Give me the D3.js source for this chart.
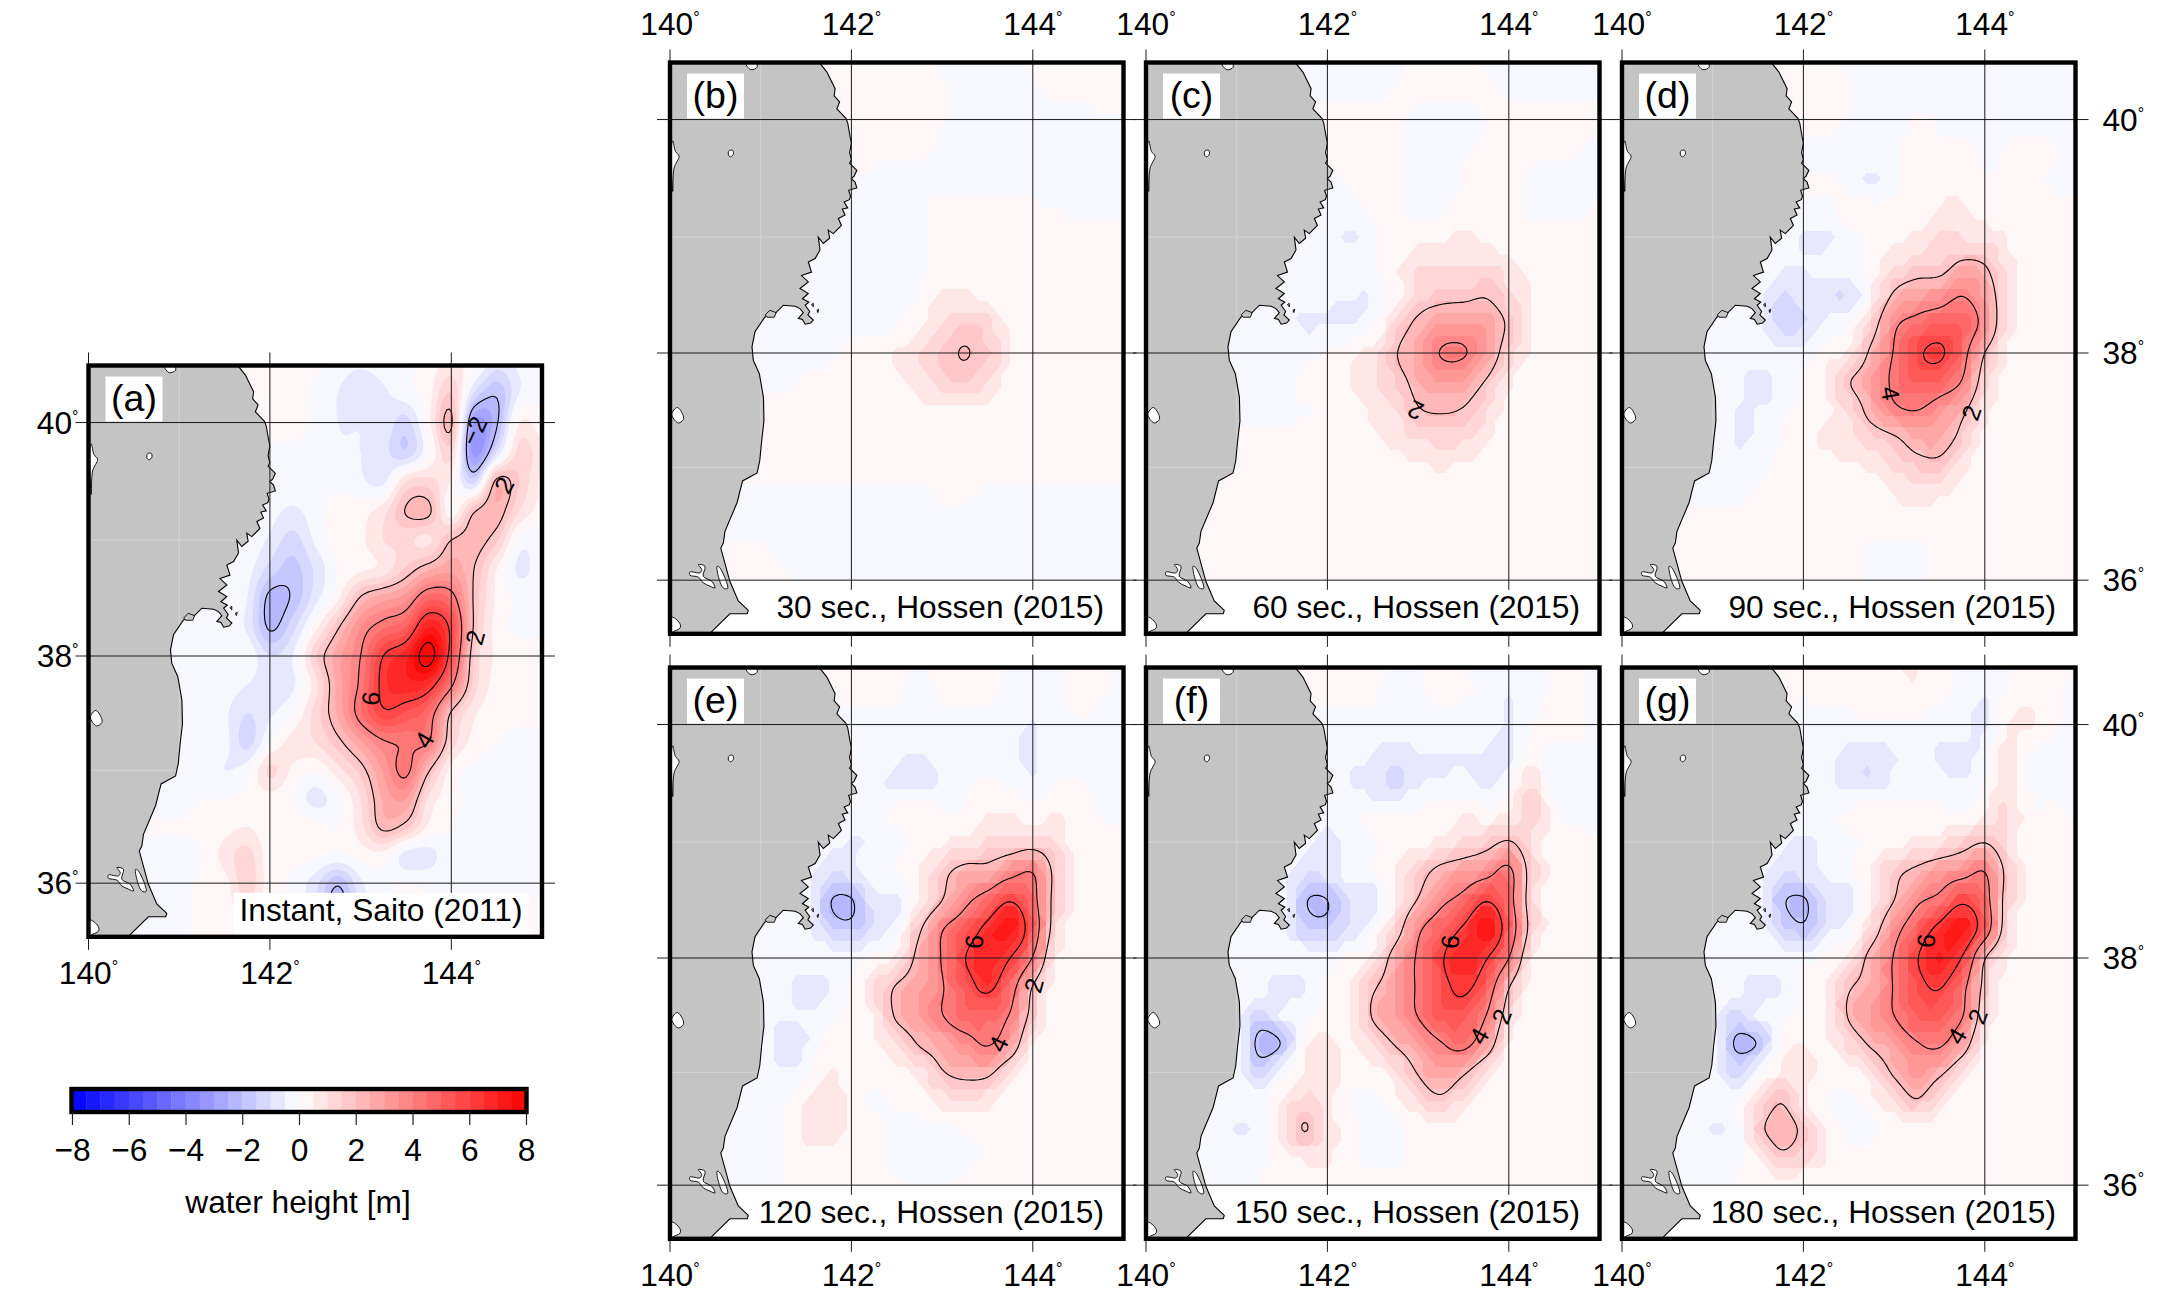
<!DOCTYPE html>
<html><head><meta charset="utf-8">
<script src="https://cdn.jsdelivr.net/npm/d3@7"></script>
<style>
html,body{margin:0;padding:0;background:#fff}
svg{display:block}
text{font-family:"Liberation Sans",Arial,Helvetica,sans-serif;fill:#000}
</style></head><body>
<script>
// ---------- values ----------
const panelLetters = ["(a)","(b)","(c)","(d)","(e)","(f)","(g)"];
const panelCaptions = ["Instant, Saito (2011)","30 sec., Hossen (2015)","60 sec., Hossen (2015)","90 sec., Hossen (2015)","120 sec., Hossen (2015)","150 sec., Hossen (2015)","180 sec., Hossen (2015)"];
const lonTicks = [140,142,144];
const latTicks = [40,38,36];
const barTicks = [-8,-6,-4,-2,0,2,4,6,8];
const barTitle = "water height [m]";
const contourLevels = [2,4,6,8];
// sampled water height [m]; columns 140.5E..145E and rows 40.5N downwards, every 0.25 degree
const heightA = [
[.1,.1,.1,.1,.1,.1,.1,.1,.1,-.2,-.4,-.2,-.1,.2,.7,.2,-.8,-.4,-.1],
[.1,.1,.1,.1,.1,.1,.1,.1,-.1,-.5,-1,-.6,-.2,.3,1.5,-1,-1.9,-.5,-.1],
[.1,.1,.1,.1,.1,.1,.1,.1,-.1,-.5,-.55,-.6,-1.2,.3,2.1,-3,-2.1,.5,.2],
[.1,.1,.1,.1,.1,.1,-.05,-.05,-.1,-.4,-.5,-.8,-1.4,-.1,1.2,-3.2,-1,1.2,.7],
[-.1,-.1,-.1,-.1,-.1,-.1,-.1,-.1,-.2,-.2,-.4,-.6,1,1.2,.4,-1.2,2.2,1.5,.4],
[-.1,-.1,-.1,-.1,-.1,-.1,-.3,-.6,-.2,.3,.3,.8,2.05,2.15,.2,1.9,2.4,1,.3],
[-.1,-.1,-.1,-.1,-.1,-.1,-.6,-1.2,-.4,.3,.4,1,1.1,.9,2,2.3,1.6,-.2,-.2],
[-.1,-.1,-.1,-.1,-.1,-.3,-1.2,-1.7,-.9,0,.4,.7,1.6,2.4,2.8,2,.5,-.6,-.2],
[-.1,-.1,-.1,-.1,-.1,-.5,-2.2,-1.9,-.7,.4,2.1,2.8,3.3,4.8,4.4,1.9,.4,-.1,-.1],
[-.1,-.1,-.1,-.1,-.2,-.6,-2.1,-1.2,.3,1.9,3.5,4.4,5,7,5.7,1.9,.3,-.1,-.1],
[-.1,-.1,-.1,-.1,-.1,-.1,-1,-.5,1.4,2.8,4,6,6.8,8.4,5.5,1.5,.4,.2,.2],
[-.1,-.1,-.1,-.1,-.2,-.5,-.8,-.6,.8,2.7,4.2,6.3,6.8,6.5,4.2,1.3,.3,.1,.1],
[-.1,-.1,-.1,-.1,-.4,-1,-.6,0,1.2,2.6,4.4,5.8,5.4,4.6,1.9,.6,.2,.1,.1],
[-.1,-.1,-.1,-.1,-.3,-1.2,0,.7,1,1.8,2.9,3.9,4.1,4,1.4,.3,0,-.1,-.1],
[-.1,-.1,-.1,-.1,-.5,-.2,1.1,.4,.1,.8,1.7,3.1,4.2,2.1,.3,-.1,-.1,-.1,-.1],
[-.1,-.1,-.1,0,0,.2,.3,0,-.7,-.1,1,2.6,3,.9,.2,-.1,-.1,-.1,-.1],
[.02,.02,.02,.1,.3,.5,.2,.4,.2,0,.8,2.2,1.7,.4,0,-.1,-.1,-.1,-.1],
[-.1,-.1,-.1,0,.7,1.2,.2,.2,.1,-.1,.2,.3,-.7,-.7,-.1,-.1,-.1,-.1,-.1],
[-.1,-.1,-.1,.1,.3,1.3,.2,-.1,-.8,-1.9,-.6,-.1,0,-.1,-.1,-.1,-.1,-.1,-.1],
[-.1,-.1,-.1,.1,.2,.8,.1,0,-.9,-2.2,-.7,-.1,.1,.1,.1,.1,.1,.1,.1],
[-.1,-.1,-.1,.1,.1,.2,.1,0,-.3,-.6,-.2,-.1,.1,.1,.1,.1,.1,.1,.1]];
const heightB = [
[.1,.1,.1,.1,.1,.1,.1,.2,.2,.2,-.1,-.2,-.2,-.1,.1,.2,.2,.2,.2],
[.1,.1,.1,.1,.1,.1,.1,.2,.2,.2,.05,-.2,-.2,-.2,-.1,.1,.2,.2,.1],
[.1,.1,.1,.1,.1,.1,.1,.2,.2,.15,.05,-.2,-.2,-.2,-.2,-.2,-.2,-.1,-.05],
[.1,.1,.1,.1,.1,.1,.1,.15,.1,.1,-.1,-.2,-.2,-.2,-.2,-.2,-.2,-.2,-.2],
[-.1,-.1,-.1,-.1,-.1,-.1,-.05,-.1,-.1,-.1,-.15,-.2,-.2,-.2,-.2,-.2,-.2,-.2,-.2],
[-.1,-.1,-.1,-.1,-.1,-.1,-.2,-.2,-.2,-.05,.1,.15,.15,.15,.05,-.02,-.05,-.1,-.1],
[-.1,-.1,-.1,-.1,-.1,-.2,-.2,-.2,-.2,-.05,.1,.15,.15,.15,.15,.15,.15,.15,.15],
[-.1,-.1,-.1,-.1,-.1,-.2,-.2,-.2,-.2,-.05,.15,.2,.2,.2,.2,.2,.2,.2,.2],
[-.1,-.1,-.1,-.1,-.1,-.2,-.2,-.2,-.2,-.02,.55,.6,.3,.2,.2,.2,.2,.2,.2],
[-.1,-.1,-.1,-.1,-.1,-.15,-.15,-.1,-.05,.4,1.1,1.5,1.2,.4,.2,.2,.2,.2,.2],
[-.1,-.1,-.1,-.1,-.1,-.05,.1,.3,.55,1,1.6,2.05,1.5,.5,.25,.2,.2,.2,.2],
[-.1,-.1,-.05,-.05,.05,.1,.15,.2,.4,.8,1.3,1.5,1.1,.3,.2,.2,.2,.2,.2],
[.1,.1,.1,.1,.1,.1,.1,.1,.15,.3,.4,.4,.25,.15,.1,.1,.1,.1,.1],
[.1,.1,.1,.1,.1,.1,.1,.1,.1,.1,.1,.1,.1,.1,.1,.1,.1,.1,.1],
[.1,.1,.1,.1,.1,.1,.1,.1,.1,.1,.1,.1,.1,.1,.1,.1,.1,.1,.1],
[-.05,-.05,-.05,-.05,-.05,-.05,-.05,-.05,-.05,-.05,.03,.03,-.05,-.05,-.05,-.05,-.05,-.05,-.05],
[-.1,-.1,-.1,-.1,-.1,-.1,-.1,-.1,-.1,-.1,-.1,-.1,-.1,-.1,-.1,-.1,-.1,-.1,-.1],
[.05,.05,.05,-.05,-.1,-.1,-.1,-.1,-.1,-.1,-.1,-.1,-.1,-.1,-.1,-.1,-.1,-.1,-.1],
[.05,.05,.05,.02,-.05,-.1,-.1,-.1,-.1,-.1,-.1,-.1,-.1,-.1,-.1,-.1,-.1,-.1,-.1]];
const heightC = [
[.1,.1,.1,.1,.1,-.1,-.2,-.2,-.2,-.1,.1,.1,.1,-.05,-.2,-.2,-.2,-.2,-.2],
[.1,.1,.1,.1,.1,-.1,-.1,-.1,-.1,.05,.1,.1,.1,.1,-.05,-.05,-.05,-.05,-.05],
[.1,.1,.1,.1,.1,.1,.1,.1,.1,.1,-.1,-.2,-.15,-.02,.1,.1,.1,.1,.1],
[.1,.1,.1,.1,.1,.1,.1,.1,.1,.1,-.15,-.2,-.05,.1,.1,.1,.1,.05,-.1],
[.1,.1,.1,.1,.1,.1,-.02,.05,.1,.1,-.15,-.2,.05,.1,.1,-.05,-.2,-.2,-.2],
[-.1,-.1,-.1,-.1,-.1,-.1,-.2,-.1,.05,.1,-.15,-.05,.1,.1,.1,-.1,-.15,-.1,.05],
[-.1,-.1,-.1,-.1,-.1,-.2,-.3,-.55,-.1,.1,.2,.3,.6,.4,.1,.1,.1,.1,.1],
[-.1,-.1,-.1,-.1,-.1,-.2,-.2,-.2,-.1,.4,1,1,.9,1.1,.7,.3,.1,.1,.1],
[-.1,-.1,-.1,-.1,-.2,-.3,-.4,-.4,-.5,.3,1.3,1.6,1.7,1.9,1.2,.5,.1,.1,.1],
[-.1,-.1,-.1,-.1,-.3,-.55,-.55,-.5,-.15,1.2,2.3,3,3.1,2.8,1.8,.55,.1,.1,.1],
[-.1,-.1,-.1,-.1,-.1,-.1,.05,.4,.7,1.9,2.9,4.05,4.1,3,1.3,.4,.1,.1,.1],
[-.1,-.1,-.1,-.1,-.1,.1,.1,.5,.8,1.5,2.4,3,2.8,1.9,.6,.1,.1,.1,.1],
[-.1,-.1,-.1,-.1,-.1,-.02,.05,.2,.7,1,1.9,2.1,1.9,1.1,.3,.1,.1,.1,.1],
[.1,.1,.1,.1,.1,.1,.1,.1,.3,.7,1,1.3,1.1,.6,.1,.1,.1,.1,.1],
[.1,.1,.1,.1,.1,.1,.1,.1,.1,.2,.4,.55,.4,.2,.1,.1,.1,.1,.1],
[.1,.1,.1,.1,.1,.1,.1,.1,.1,.1,.1,.1,.1,.1,.1,.1,.1,.1,.1],
[.1,.1,.1,.1,.1,.1,.1,.1,.1,.1,.1,.1,.1,.1,.1,.1,.1,.1,.1],
[.1,.1,.1,.1,.1,.1,.1,.1,.1,.1,.1,.1,.1,.1,.1,.1,.1,.1,.1],
[.1,.1,.1,.1,.1,.1,.1,.1,.1,.1,.1,.1,.1,.1,.1,.1,.1,.1,.1]];
const heightD = [
[.1,.1,.1,.1,.1,.1,.1,.1,-.1,-.2,-.2,-.2,-.2,-.2,-.2,-.2,-.2,-.2,-.2],
[.1,.1,.1,.1,.1,.1,.1,.1,.02,-.2,-.2,-.2,-.2,-.2,-.2,-.2,-.2,-.2,-.2],
[.1,.1,.1,.1,.1,.1,.1,.1,-.02,-.2,-.1,.05,-.05,-.2,-.2,-.2,-.2,-.2,-.2],
[-.1,-.1,-.1,-.1,-.1,-.1,-.1,-.1,-.2,-.15,-.05,.1,.05,.1,-.05,.05,.1,.05,-.1],
[-.1,-.1,-.1,-.1,-.1,-.1,.03,.03,-.2,-.6,-.1,.1,.3,.3,.02,.05,.1,-.05,-.2],
[-.1,-.1,-.1,-.1,-.1,-.1,-.1,-.1,.2,.1,.1,.2,.5,.6,.3,.15,.1,.1,.1],
[-.1,-.1,-.1,-.1,-.1,-.2,-.55,-.6,-.1,.1,.35,.6,1,1,.8,.55,.1,.1,.1],
[-.1,-.1,-.1,-.1,-.1,-.4,-.5,-.3,-.3,.3,1,1.4,1.5,2.3,2.05,.7,.1,.1,.1],
[-.1,-.1,-.1,-.1,-.2,-1.05,-.8,-.95,-.9,.3,2.2,2.9,3.2,3.95,2.9,1,.2,.1,.1],
[-.1,-.1,-.1,-.1,-.3,-1.1,-1,-.4,-.05,1.3,3.7,4.5,5,5,3.4,.8,.1,.1,.1],
[-.1,-.1,-.1,-.1,-.2,-.3,-.2,.2,.6,2.3,4.1,5.7,6.2,4.6,2,.6,.1,.1,.1],
[-.1,-.1,-.1,-.3,-.8,-.3,.1,.55,1.9,2.8,4.3,5.1,4.9,3.9,1.3,.2,.1,.1,.1],
[-.1,-.1,-.1,-.5,-.5,-.1,.1,.35,1.1,2.5,3.7,4,3.3,2.3,.7,.2,.1,.1,.1],
[-.1,-.1,-.1,-.55,-.4,.05,.3,.6,.9,1.3,1.8,2.6,2.6,1.6,.4,.1,.1,.1,.1],
[-.1,-.1,-.1,-.4,-.1,.1,.1,.2,.4,.6,1,1.5,1.6,.7,.1,.1,.1,.1,.1],
[-.1,-.1,-.1,-.1,.05,.1,.1,.1,.1,.2,.55,.65,.6,.2,.1,.1,.1,.1,.1],
[.1,.1,.1,.1,.1,.1,.1,.1,.1,.1,.1,.2,.1,.1,.1,.1,.1,.1,.1],
[.1,.1,.1,.1,.1,.1,.1,.1,.1,-.05,-.05,-.05,.1,.1,.1,.1,.1,.1,.1],
[.1,.1,.1,.1,.1,.1,.1,.1,.1,-.05,-.05,-.05,.1,.1,.1,.1,.1,.1,.1]];
const heightE = [
[.1,.1,.1,.1,.1,.1,.1,.1,.1,-.1,.1,.1,.1,-.02,-.2,-.1,.1,.05,-.1],
[.1,.1,.1,.1,.1,.1,.05,.05,.05,-.1,.05,.1,.05,-.1,-.2,-.1,.1,.02,-.1],
[-.1,-.1,-.1,-.1,-.1,-.1,-.1,-.1,-.1,-.1,-.1,-.1,-.1,-.2,-.55,-.2,-.05,-.1,-.1],
[-.1,-.1,-.1,-.1,-.1,-.1,.05,-.2,-.4,-.55,-.3,-.1,-.1,-.3,-.6,-.1,-.1,-.1,-.1],
[-.1,-.1,-.1,-.1,-.1,-.1,-.1,-.4,-.6,-.9,-.5,-.1,.05,-.05,-.4,.05,.02,-.1,-.1],
[-.1,-.1,-.1,-.1,-.1,-.1,-.1,-.1,.1,.3,.1,.1,.55,.55,.2,.6,.2,-.05,-.05],
[-.1,-.1,-.1,-.1,-.1,-.3,-.55,-.4,-.1,.1,.4,.7,1.05,1.2,1.4,1,.2,.1,.1],
[-.1,-.1,-.1,-.1,-.2,-.9,-.7,-.15,.05,.4,1.6,2.4,2.5,3.4,3.9,1.6,.3,.1,.1],
[-.1,-.1,-.1,-.1,-.3,-1.9,-2.05,-.8,-.7,.5,2,3.6,4.7,5.9,4.5,1.5,.3,.1,.1],
[-.1,-.1,-.1,-.1,-.2,-1.4,-1.7,-.9,-.2,1.8,3.9,5,6.4,7.3,5,1.3,.2,.1,.1],
[-.1,-.1,-.1,-.1,-.2,-.1,-.2,.1,.6,2.5,4.1,5.95,6.9,6,3.9,.6,.15,.1,.1],
[-.1,-.1,-.1,-.1,-.9,-.5,.05,1,2.1,2.8,3.9,5.3,6.3,4.7,1.95,.2,.1,.1,.1],
[-.1,-.1,-.1,-.4,-.4,-.1,.1,.5,2.2,2.9,3.95,4.9,4.7,3.9,1.5,.1,.1,.1,.1],
[-.1,-.1,-.1,-.9,-.5,.3,.5,.4,1,2.1,2.7,3.4,4.1,3,.5,.1,.1,.1,.1],
[-.1,-.1,-.1,-.5,-.1,.5,.3,.1,.3,.8,1.9,2.4,2.3,1,.1,.1,.1,.1,.1],
[-.1,-.1,-.1,-.1,.5,.9,.3,-.05,.1,.3,.7,.8,.7,.3,.1,.1,.1,.1,.1],
[-.1,-.1,-.1,.02,.6,.9,.3,.1,-.1,-.15,-.1,.1,.1,.1,.1,.1,.1,.1,.1],
[-.1,-.1,-.1,.02,.3,.3,.1,.1,-.1,-.2,-.2,-.1,.05,.1,.1,.1,.1,.1,.1],
[-.1,-.1,-.1,.02,.1,.1,.1,.1,.05,-.05,-.05,.1,.1,.1,.1,.1,.1,.1,.1]];
const heightF = [
[.1,.1,.1,.1,.1,.1,.1,.1,.1,-.1,-.05,.3,.05,-.1,-.1,-.1,.1,.05,-.1],
[.1,.1,.1,.1,.1,.1,.05,.05,.02,-.1,-.1,.1,.02,-.1,-.55,-.2,.05,.05,-.1],
[-.1,-.1,-.1,-.1,-.1,-.1,-.1,-.1,-.1,-.1,-.1,-.1,-.2,-.3,-.55,-.05,.3,.1,-.1],
[-.1,-.1,-.1,-.1,-.1,-.1,-.1,-.2,-.55,-.75,-.5,-.55,-.5,-.55,-.6,.3,-.45,-.1,-.2],
[-.1,-.1,-.1,-.1,-.1,-.1,-.1,-.55,-.85,-1.1,-.55,-.4,-.3,-.7,-.2,1,-.4,-.1,-.2],
[-.1,-.1,-.1,-.1,-.1,-.1,-.2,-.15,.1,.2,.1,.2,.45,.2,.5,1.2,.1,-.1,-.1],
[-.1,-.1,-.1,-.1,-.1,-.4,-.7,-.4,-.1,.15,.4,.6,1,1.5,2.1,1,.2,.1,.05],
[-.1,-.1,-.1,-.1,-.2,-.9,-.8,-.3,0,.5,1.4,2.4,2.9,3.4,4.3,1.4,.2,.1,.1],
[-.1,-.1,-.1,-.1,-.3,-1.9,-2,-.9,-.75,.6,2.1,3.6,4.5,5.9,4.6,1.3,.2,.1,.1],
[-.1,-.1,-.1,-.1,-.2,-1.4,-1.6,-.8,-.15,1.3,3.7,5,6.2,7.4,5.1,1.5,.2,.1,.1],
[-.1,-.1,-.1,-.1,-.1,-.1,-.2,.1,.7,2.6,4.2,5.8,6.9,6.1,4,.7,.15,.1,.1],
[-.1,-.1,-.1,-.2,-.85,-.5,.05,.6,1.8,2.8,4.2,5.5,6.3,5,2.1,.3,.1,.1,.1],
[-.1,-.1,-.1,-1.3,-.5,-.1,.1,.5,2.1,3.1,4.05,5.2,5.3,4,1.3,.1,.1,.1,.1],
[-.1,-.1,-.1,-2.3,-1.9,.3,.6,.4,1.1,2.1,3,3.9,4.4,2.9,.5,.1,.1,.1,.1],
[-.1,-.1,-.1,-1.3,-.2,.5,.8,.2,.3,.8,2.1,3,2.2,.9,.1,.1,.1,.1,.1],
[-.1,-.1,-.1,-.2,.6,1.2,.7,-.05,-.1,.3,1.1,1.7,.8,.2,.1,.1,.1,.1,.1],
[-.1,-.1,-.55,-.3,.7,2.05,.8,.2,-.2,-.1,.2,.3,.1,.1,.1,.1,.1,.1,.1],
[-.1,-.1,-.1,-.1,.3,.7,.6,.2,-.15,-.05,.1,.1,.1,.1,.1,.1,.1,.1,.1],
[-.1,-.1,-.1,.02,.05,.1,.1,.1,.1,.1,.1,.1,.1,.1,.1,.1,.1,.1,.1]];
const heightG = [
[.1,.1,.1,.1,.1,.1,.1,.1,.1,.05,.4,.55,.1,-.05,-.1,-.05,.1,.1,.05],
[.1,.1,.1,.1,.1,.1,.02,.05,.05,.1,.2,.4,.1,-.1,-.55,.1,.4,.05,-.1],
[-.1,-.1,-.1,-.1,-.1,-.1,-.1,-.1,-.1,-.1,-.1,-.1,-.3,-.3,-.55,.55,.5,.1,-.1],
[-.1,-.1,-.1,-.1,-.1,-.1,-.1,-.3,-.6,-.9,-.5,-.3,-.6,-.65,-.3,.7,-.05,-.1,-.1],
[-.1,-.1,-.1,-.1,-.1,-.1,-.1,-.4,-.8,-.9,-.4,-.2,-.2,-.5,.1,.9,-.05,-.1,-.1],
[-.1,-.1,-.1,-.1,-.1,-.1,-.2,-.05,.1,.35,.1,.1,.15,.1,.4,1.1,.1,.05,-.05],
[-.1,-.1,-.1,-.1,-.1,-.4,-.6,-.4,-.1,.1,.3,.6,.8,1.4,1.95,1,.1,.1,.05],
[-.1,-.1,-.1,-.1,-.2,-.8,-.7,-.4,-.05,.5,1.6,2.3,3,3.4,3.95,1.6,.2,.1,.1],
[-.1,-.1,-.1,-.1,-.2,-1.8,-2.1,-1,-.9,.5,2,3.7,4.4,5.7,4.6,1.4,.2,.1,.1],
[-.1,-.1,-.1,-.1,-.2,-1.2,-1.8,-.7,-.2,1.2,3.4,5,6.4,7.4,4.9,1.2,.2,.1,.1],
[-.1,-.1,-.1,-.1,-.1,-.1,-.2,.1,.7,2.5,4.1,5.9,7,5.9,2.1,.5,.1,.1,.1],
[-.1,-.1,-.1,-.2,-.85,-.5,.05,.6,1.85,2.6,4.1,5.5,6.1,4.5,1.6,.2,.1,.1,.1],
[-.1,-.1,-.1,-1.2,-.5,-.1,.1,.5,2.1,3.1,4,5.1,5,4.1,1.2,.1,.1,.1,.1],
[-.1,-.1,-.1,-2.1,-1.9,.2,.5,.4,1.2,2.2,3,3.9,4.2,2.8,.5,.1,.1,.1,.1],
[-.1,-.1,-.1,-1.1,-.2,.6,.7,.2,.3,.9,2.2,3.1,2.3,1,.1,.1,.1,.1,.1],
[-.1,-.1,-.05,-.1,.8,1.9,.7,-.05,-.1,.3,1,1.9,.8,.2,.1,.1,.1,.1,.1],
[-.1,-.1,-.55,-.3,1.6,2.5,1.7,.4,-.1,-.1,.2,.3,.1,.1,.1,.1,.1,.1,.1],
[-.1,-.1,-.1,-.1,.5,1.7,1.2,.5,.1,.3,.4,.1,.1,.1,.1,.1,.1,.1,.1],
[-.1,-.1,-.1,.02,.1,.2,.1,.1,.2,.3,.1,.1,.1,.1,.1,.1,.1,.1,.1]];
const heightPanels = [heightA,heightB,heightC,heightD,heightE,heightF,heightG];
// contour annotations per panel: [text, lon, lat, angle]
const notesA = [["2",144.26,38.16,-75],["2",144.58,39.47,-60],["\u22122",144.25,39.93,-65],["4",143.70,37.27,-60],["6",143.11,37.63,-85]];
const notesB = [];
const notesC = [["2",142.97,37.50,205]];
const notesD = [["4",142.96,37.65,80],["2",143.85,37.48,-70]];
const notesE = [["6",143.35,38.14,-85],["2",144.01,37.76,-75],["4",143.62,37.25,-65]];
const notesF = [["6",143.35,38.14,-85],["4",143.67,37.32,-60],["2",143.92,37.49,-70]];
const notesG = [["6",143.35,38.15,-85],["4",143.69,37.32,-60],["2",143.92,37.49,-70]];
const notePanels = [notesA,notesB,notesC,notesD,notesE,notesF,notesG];
// coastline of Honshu, north to south
const coast = [[141.635,40.49],[141.73,40.40],[141.82,40.26],[141.81,40.20],[141.87,40.15],[141.84,40.09],[141.94,40.01],[141.96,39.97],[141.98,39.88],[142.0,39.80],[141.98,39.72],[142.0,39.66],[141.98,39.63],[142.06,39.57],[142.03,39.52],[142.0,39.50],[142.04,39.47],[142.06,39.42],[141.97,39.40],[141.99,39.35],[141.977,39.32],[141.92,39.30],[141.96,39.25],[141.90,39.24],[141.93,39.19],[141.856,39.16],[141.89,39.10],[141.80,39.03],[141.745,39.06],[141.76,38.99],[141.69,38.945],[141.635,39.0],[141.654,38.89],[141.6,38.816],[141.525,38.787],[141.56,38.70],[141.45,38.67],[141.525,38.615],[141.433,38.558],[141.525,38.515],[141.46,38.47],[141.53,38.44],[141.49,38.414],[141.54,38.36],[141.52,38.33],[141.58,38.285],[141.55,38.26],[141.49,38.25],[141.46,38.29],[141.415,38.30],[141.47,38.35],[141.433,38.385],[141.38,38.405],[141.25,38.414],[141.158,38.342],[141.047,38.313],[140.937,38.184],[140.904,38.054],[140.918,37.938],[140.985,37.82],[141.03,37.613],[141.036,37.407],[141.01,37.23],[140.99,37.06],[140.96,36.95],[140.80,36.88],[140.74,36.69],[140.606,36.434],[140.588,36.33],[140.56,36.286],[140.66,35.99],[140.753,35.815],[140.863,35.73],[140.852,35.70],[140.66,35.70],[140.44,35.525],[140.36,35.45]];
const lakes = [
[[140.313,36.139],[140.386,36.124],[140.367,36.035],[140.46,35.99],[140.496,35.93],[140.44,35.947],[140.367,35.976],[140.313,36.027],[140.22,36.044],[140.22,36.073],[140.33,36.065],[140.35,36.094]],
[[140.52,36.124],[140.55,36.11],[140.636,35.926],[140.588,35.93],[140.533,36.035]],
[[140.03,35.67],[140.11,35.61],[140.11,35.57],[140.02,35.53],[139.98,35.45],[139.98,35.67]],
[[140.02,37.466],[140.08,37.525],[140.14,37.466],[140.147,37.42],[140.09,37.39]],
[[140.834,40.475],[140.87,40.50],[140.944,40.486],[140.96,40.44],[140.89,40.42]],
[[140.65,39.735],[140.69,39.74],[140.70,39.71],[140.67,39.685],[140.645,39.70]],
[[140.03,39.82],[140.06,39.73],[140.1,39.69],[140.045,39.59],[140.03,39.39],[140.015,39.78]]
];
const islets = [[[141.05,38.33],[141.1,38.37],[141.17,38.35],[141.15,38.31],[141.07,38.31]],[[141.56,38.42],[141.58,38.43],[141.58,38.40]],[[141.62,38.37],[141.64,38.38],[141.63,38.35]]];
const landSeamLons = [141];
const landSeamLats = [39,37];

// ---------- layout ----------
const W=2170,H=1295, pxPerDeg=90.7;
const originX=[88.5,670,1146,1622,670,1146,1622];
const originY=[656,353,353,353,958,958,958];
const latN=40.48, latS=35.52, gridLon0=140.5, gridLat0=40.5, gridStep=.25;
const svg=d3.select("body").append("svg").attr("width",W).attr("height",H).attr("viewBox",[0,0,W,H]);
svg.append("rect").attr("width",W).attr("height",H).attr("fill","#fff");
const colorScale=d3.scaleLinear().domain([-8,0,8]).range(["#0000ff","#ffffff","#ff0000"]);
const binColor=t=>colorScale(t+.25);
const thresholds=d3.range(-8,8,.5);
const pathLine=d3.line();

function catmull(a,b,c,d,t){return .5*(2*b+(c-a)*t+(2*a-5*b+4*c-d)*t*t+(3*b-a-3*c+d)*t*t*t);}
function resample(grid,d){ // display raster from the sampled rows
  const rows=grid.length,cols=grid[0].length;
  const n=Math.round((cols-1)*gridStep/d)+1,m=Math.round((rows-1)*gridStep/d)+1;
  const out=new Float64Array(n*m);
  const at=(r,c)=>grid[Math.max(0,Math.min(rows-1,r))][Math.max(0,Math.min(cols-1,c))];
  for(let j=0;j<m;j++){const v=j*d/gridStep,r=Math.min(rows-1,Math.floor(v)),fv=v-r;
    for(let i=0;i<n;i++){const u=i*d/gridStep,c=Math.min(cols-1,Math.floor(u)),fu=u-c;
      const col=[-1,0,1,2].map(k=>catmull(at(r+k,c-1),at(r+k,c),at(r+k,c+1),at(r+k,c+2),fu));
      out[j*n+i]=catmull(col[0],col[1],col[2],col[3],fv);}}
  return {values:out,n,m,d};
}
function ringsPath(geom,f,proj){
  let s="";
  for(const poly of geom.coordinates)for(const ring of poly){
    s+=pathLine(ring.map(([x,y])=>proj([gridLon0+(x-.5)*f.d,gridLat0-(y-.5)*f.d])))+"Z";
  }
  return s;
}
function deg(sel,str,anchor,x,y,size){
  const t=sel.append("text").attr("x",x).attr("y",y).attr("text-anchor",anchor).style("font-size",size+"px");
  t.append("tspan").text(str);
  t.append("tspan").attr("dy",-12).style("font-size","16px").text("\u00b0");
  return t;
}

panelLetters.forEach((letter,idx)=>{
  const p=d3.geoMercator().scale(pxPerDeg*180/Math.PI).translate([0,0]);
  const o=p([140,38]); p.translate([originX[idx]-o[0],originY[idx]-o[1]]);
  const x0=p([140,38])[0],x1=p([145,38])[0],y0=p([140,latN])[1],y1=p([140,latS])[1];
  const g=svg.append("g").attr("class","panel");
  const clipId="clip"+idx, dataClip="data"+idx, landClip="land"+idx;
  const defs=g.append("defs");
  defs.append("clipPath").attr("id",clipId).append("rect").attr("x",x0).attr("y",y0).attr("width",x1-x0).attr("height",y1-y0);
  const dataBottom= idx===0 ? y1 : p([140,35.995])[1];
  defs.append("clipPath").attr("id",dataClip).append("rect").attr("x",x0).attr("y",y0).attr("width",x1-x0).attr("height",dataBottom-y0);
  const landRing=[...coast,[139.9,35.45],[139.9,40.55],[141.635,40.55]];
  const landD=pathLine(landRing.map(c=>p(c)))+"Z";
  defs.append("clipPath").attr("id",landClip).append("path").attr("d",landD);

  // field
  const grid=heightPanels[idx];
  const fill=resample(grid, idx===0 ? .025 : .1);
  const fieldG=g.append("g").attr("clip-path",`url(#${dataClip})`).attr("shape-rendering",idx===0?"auto":"crispEdges");
  const bands=d3.contours().size([fill.n,fill.m]).smooth(idx===0).thresholds(thresholds)(fill.values);
  fieldG.selectAll("path").data(bands.filter(b=>b.coordinates.length)).join("path")
    .attr("d",b=>ringsPath(b,fill,p)).attr("fill-rule","evenodd").attr("fill",b=>binColor(b.value));

  const inner=g.append("g").attr("clip-path",`url(#${clipId})`);
  // land
  inner.append("path").attr("d",landD).attr("fill","#c4c4c4");
  const seams=inner.append("g").attr("clip-path",`url(#${landClip})`).attr("stroke","#d4d4d4").attr("stroke-width",1);
  landSeamLons.forEach(l=>seams.append("line").attr("x1",p([l,38])[0]).attr("x2",p([l,38])[0]).attr("y1",y0).attr("y2",y1));
  landSeamLats.forEach(l=>seams.append("line").attr("x1",x0).attr("x2",x1).attr("y1",p([140,l])[1]).attr("y2",p([140,l])[1]));
  inner.append("path").attr("d",pathLine(coast.map(c=>p(c)))).attr("fill","none").attr("stroke","#000").attr("stroke-width",1.1);
  inner.selectAll("path.lake").data(lakes).join("path").attr("class","lake")
    .attr("d",r=>d3.line().curve(d3.curveCatmullRomClosed)(r.map(c=>p(c)))).attr("fill","#fff").attr("stroke","#000").attr("stroke-width",.9);
  inner.selectAll("path.islet").data(islets).join("path").attr("class","islet")
    .attr("d",r=>pathLine(r.map(c=>p(c)))+"Z").attr("fill","#c4c4c4").attr("stroke","#000").attr("stroke-width",.9);

  // contour lines
  const fine=resample(grid,.025);
  const posLines=d3.contours().size([fine.n,fine.m]).thresholds(contourLevels)(fine.values);
  const neg=fine.values.map(v=>-v);
  const negLines=d3.contours().size([fine.n,fine.m]).thresholds([2])(neg);
  inner.append("g").attr("clip-path",`url(#${dataClip})`).selectAll("path").data([...posLines,...negLines].filter(c=>c.coordinates.length)).join("path")
    .attr("d",c=>ringsPath(c,fine,p)).attr("fill","none").attr("stroke","#000").attr("stroke-width",1.1);

  // annotations
  inner.selectAll("text.note").data(notePanels[idx]).join("text").attr("class","note")
    .attr("text-anchor","middle").attr("dominant-baseline","central").style("font-size","25px")
    .attr("transform",d=>{const q=p([d[1],d[2]]);return `translate(${q[0]},${q[1]}) rotate(${d[3]})`;})
    .text(d=>d[0]);

  // graticule
  const grat=g.append("g").attr("stroke","#1a1a1a").attr("stroke-width",1);
  lonTicks.forEach(l=>{const x=p([l,38])[0];grat.append("line").attr("x1",x).attr("x2",x).attr("y1",y0-13).attr("y2",y1+13);});
  latTicks.forEach(l=>{const y=p([140,l])[1];grat.append("line").attr("x1",x0-13).attr("x2",x1+13).attr("y1",y).attr("y2",y);});

  // caption and letter
  const cap=g.append("text").attr("x",x1-19.5).attr("y",y1-16).attr("text-anchor","end").style("font-size","31.7px").text(panelCaptions[idx]);
  const b=cap.node().getBBox();
  g.insert("rect",()=>cap.node()).attr("x",b.x-6).attr("y",y1-44).attr("width",b.width+12).attr("height",44).attr("fill","#fff");
  g.append("rect").attr("x",x0+17).attr("y",y0+11).attr("width",57).attr("height",45).attr("fill","#fff");
  g.append("text").attr("x",x0+45.5).attr("y",y0+45).attr("text-anchor","middle").style("font-size","37.5px").text(letter);

  // frame
  g.append("rect").attr("x",x0).attr("y",y0).attr("width",x1-x0).attr("height",y1-y0).attr("fill","none").attr("stroke","#000").attr("stroke-width",4.4);

  // tick labels
  const top=idx>=1&&idx<=3, bottom=idx===0||idx>=4;
  lonTicks.forEach(l=>{const x=p([l,38])[0];
    if(top)deg(svg,String(l),"middle",x,35,31.7);
    if(bottom)deg(svg,String(l),"middle",x,y1+47,31.7);
  });
  latTicks.forEach(l=>{const y=p([140,l])[1]+11;
    if(idx===0)deg(svg,String(l),"end",x0-10,y,31.7);
    if(idx===3||idx===6)deg(svg,String(l),"start",x1+27,y,31.7);
  });
});

// colour bar
const barX=d3.scaleLinear().domain([-8,8]).range([72,526]);
const barTop=1090,barH=21;
const bar=svg.append("g");
bar.selectAll("rect.bin").data(thresholds).join("rect").attr("class","bin")
  .attr("x",d=>barX(d)).attr("width",d=>barX(d+.5)-barX(d)+.4).attr("y",barTop).attr("height",barH).attr("fill",d=>binColor(d));
bar.append("rect").attr("x",barX(-8)-.5).attr("y",barTop-1).attr("width",barX(8)-barX(-8)+1).attr("height",barH+2).attr("fill","none").attr("stroke","#000").attr("stroke-width",4.4);
const axis=d3.axisBottom(barX).tickValues(barTicks).tickSize(13).tickPadding(13.5);
const axG=bar.append("g").attr("transform",`translate(0,${barTop+barH+1})`).call(axis);
axG.select(".domain").remove();
axG.selectAll("line").attr("stroke","#222").attr("stroke-width",1.2);
axG.selectAll("text").style("font-size","31.7px").style("font-family","'Liberation Sans',Arial,sans-serif").attr("fill","#000");
svg.append("text").attr("x",298).attr("y",1213).attr("text-anchor","middle").style("font-size","31.7px").text(barTitle);
</script>
</body></html>
